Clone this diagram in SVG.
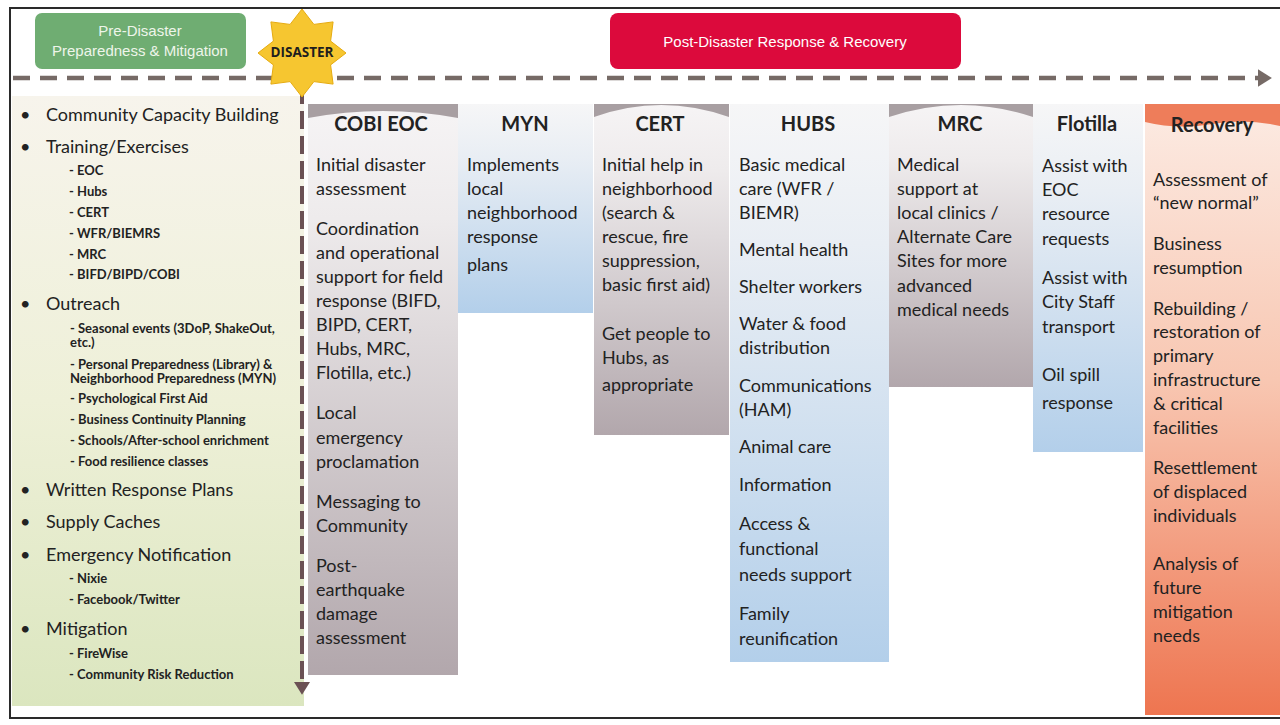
<svg xmlns="http://www.w3.org/2000/svg" width="1280" height="725" viewBox="0 0 1280 725">
<defs>
<linearGradient id="gGrey" x1="0" y1="0" x2="0" y2="1">
<stop offset="0" stop-color="#f6f4f5"/><stop offset="0.2" stop-color="#eeebec"/><stop offset="1" stop-color="#b2a7ac"/>
</linearGradient>
<linearGradient id="gBlue" x1="0" y1="0" x2="0" y2="1">
<stop offset="0" stop-color="#f6f6f7"/><stop offset="0.25" stop-color="#e9eef4"/><stop offset="1" stop-color="#b3cfea"/>
</linearGradient>
<linearGradient id="gRec" x1="0" y1="0" x2="0" y2="1">
<stop offset="0" stop-color="#fcebe3"/><stop offset="0.45" stop-color="#f8c7b2"/><stop offset="1" stop-color="#ee7550"/>
</linearGradient>
<linearGradient id="gLeft" x1="0" y1="0" x2="0" y2="1">
<stop offset="0" stop-color="#f7f4ec"/><stop offset="0.5" stop-color="#eef0d8"/><stop offset="1" stop-color="#dbe6bf"/>
</linearGradient>
<marker id="arrR" markerWidth="4" markerHeight="4" refX="1" refY="2" orient="auto" markerUnits="strokeWidth">
<path d="M0,0 L3.2,2 L0,4 Z" fill="#766a66"/>
</marker>
<marker id="arrD" markerWidth="4" markerHeight="4" refX="1" refY="2" orient="auto" markerUnits="strokeWidth">
<path d="M0,0 L3.2,2 L0,4 Z" fill="#6b5154"/>
</marker>
</defs>
<style>
.t{font-family:Lato,"Open Sans",sans-serif;font-size:18px;fill:#222222}
.h{font-family:Lato,"Open Sans",sans-serif;font-size:20px;font-weight:bold;fill:#222222;text-anchor:middle}
.b{font-family:Lato,"Open Sans",sans-serif;font-size:18px;fill:#222222}
.s{font-family:Lato,"Open Sans",sans-serif;font-size:13px;font-weight:bold;fill:#222222}
.box{font-family:"Liberation Sans",Arial,sans-serif;font-size:15px;text-anchor:middle}
.band{fill:#a89fa2}
</style>
<rect width="1280" height="725" fill="#ffffff"/>
<rect x="10" y="8" width="1290" height="710" fill="none" stroke="#2a2a2a" stroke-width="2"/>

<g id="left-panel">
<rect x="12" y="96" width="292" height="610" fill="url(#gLeft)"/>
<g class="t">
<text x="20" y="121">•</text><text x="46" y="121">Community Capacity Building</text>
<text x="20" y="153">•</text><text x="46" y="153">Training/Exercises</text>
<text x="20" y="310">•</text><text x="46" y="310">Outreach</text>
<text x="20" y="496">•</text><text x="46" y="496">Written Response Plans</text>
<text x="20" y="528">•</text><text x="46" y="528">Supply Caches</text>
<text x="20" y="561">•</text><text x="46" y="561">Emergency Notification</text>
<text x="20" y="635">•</text><text x="46" y="635">Mitigation</text>
</g>
<g class="s">
<text x="69" y="175">- EOC</text>
<text x="69" y="196">- Hubs</text>
<text x="69" y="217">- CERT</text>
<text x="69" y="238">- WFR/BIEMRS</text>
<text x="69" y="259">- MRC</text>
<text x="69" y="279">- BIFD/BIPD/COBI</text>
<text x="70" y="333">- Seasonal events (3DoP, ShakeOut,</text>
<text x="70" y="347">etc.)</text>
<text x="70" y="369">- Personal Preparedness (Library) &amp;</text>
<text x="70" y="383">Neighborhood Preparedness (MYN)</text>
<text x="70" y="403">- Psychological First Aid</text>
<text x="70" y="424">- Business Continuity Planning</text>
<text x="70" y="445">- Schools/After-school enrichment</text>
<text x="70" y="466">- Food resilience classes</text>
<text x="69" y="583">- Nixie</text>
<text x="69" y="604">- Facebook/Twitter</text>
<text x="69" y="658">- FireWise</text>
<text x="69" y="679">- Community Risk Reduction</text>
</g>
</g>

<g id="pre-disaster">
<rect x="35" y="13" width="211" height="56" rx="7" fill="#6fad72"/>
<text class="box" x="140" y="36" fill="#eef5ea">Pre-Disaster</text>
<text class="box" x="140" y="56" fill="#eef5ea">Preparedness &amp; Mitigation</text>
</g>

<g id="post-disaster">
<rect x="610" y="13" width="351" height="56" rx="8" fill="#dc0a3c"/>
<text class="box" x="785" y="47" fill="#ffffff">Post-Disaster Response &amp; Recovery</text>
</g>

<g id="connectors">
<line x1="13" y1="78" x2="1262" y2="78" stroke="#766a66" stroke-width="4.5" stroke-dasharray="17 10" marker-end="url(#arrR)"/>
<line x1="302" y1="86" x2="302" y2="686" stroke="#6b5154" stroke-width="4" stroke-dasharray="18 7" marker-end="url(#arrD)"/>
</g>

<g id="disaster">
<polygon points="302,9 313.9,24.4 333.1,21.9 330.6,41.1 346,53 330.6,64.9 333.1,84.1 313.9,81.6 302,97 290.1,81.6 270.9,84.1 273.4,64.9 258,53 273.4,41.1 270.9,21.9 290.1,24.4" fill="#f6c630" stroke="#e6ab10" stroke-width="1"/>
<text x="302" y="57" text-anchor="middle" font-family="'Open Sans',Lato,sans-serif" font-size="13.5" font-weight="bold" fill="#1e1e1e">DISASTER</text>
</g>

<g id="cobi-eoc">
<rect x="308" y="104" width="150" height="571" fill="url(#gGrey)"/>
<path class="band" d="M308,104 H458 V118 Q383,104 308,118 Z"/>
<text class="h" x="381" y="131">COBI EOC</text>
<g class="b">
<text x="316" y="171">Initial disaster</text>
<text x="316" y="195">assessment</text>
<text x="316" y="235">Coordination</text>
<text x="316" y="259">and operational</text>
<text x="316" y="283">support for field</text>
<text x="316" y="307">response (BIFD,</text>
<text x="316" y="331">BIPD, CERT,</text>
<text x="316" y="355">Hubs, MRC,</text>
<text x="316" y="379">Flotilla, etc.)</text>
<text x="316" y="419">Local</text>
<text x="316" y="444">emergency</text>
<text x="316" y="468">proclamation</text>
<text x="316" y="508">Messaging to</text>
<text x="316" y="532">Community</text>
<text x="316" y="572">Post-</text>
<text x="316" y="596">earthquake</text>
<text x="316" y="620">damage</text>
<text x="316" y="644">assessment</text>
</g>
</g>

<g id="myn">
<rect x="458" y="104" width="135" height="209" fill="url(#gBlue)"/>
<text class="h" x="525" y="131">MYN</text>
<g class="b">
<text x="467" y="171">Implements</text>
<text x="467" y="195">local</text>
<text x="467" y="219">neighborhood</text>
<text x="467" y="243">response</text>
<text x="467" y="271">plans</text>
</g>
</g>

<g id="cert">
<rect x="594" y="104" width="135" height="331" fill="url(#gGrey)"/>
<path class="band" d="M594,104 H729 V117 Q661,93 594,117 Z"/>
<text class="h" x="660" y="131">CERT</text>
<g class="b">
<text x="602" y="171">Initial help in</text>
<text x="602" y="195">neighborhood</text>
<text x="602" y="219">(search &amp;</text>
<text x="602" y="243">rescue, fire</text>
<text x="602" y="267">suppression,</text>
<text x="602" y="291">basic first aid)</text>
<text x="602" y="340">Get people to</text>
<text x="602" y="364">Hubs, as</text>
<text x="602" y="391">appropriate</text>
</g>
</g>

<g id="hubs">
<rect x="730" y="104" width="159" height="558" fill="url(#gBlue)"/>
<text class="h" x="808" y="131">HUBS</text>
<g class="b">
<text x="739" y="171">Basic medical</text>
<text x="739" y="195">care (WFR /</text>
<text x="739" y="219">BIEMR)</text>
<text x="739" y="256">Mental health</text>
<text x="739" y="293">Shelter workers</text>
<text x="739" y="330">Water &amp; food</text>
<text x="739" y="354">distribution</text>
<text x="739" y="392">Communications</text>
<text x="739" y="416">(HAM)</text>
<text x="739" y="453">Animal care</text>
<text x="739" y="491">Information</text>
<text x="739" y="530">Access &amp;</text>
<text x="739" y="555">functional</text>
<text x="739" y="581">needs support</text>
<text x="739" y="620">Family</text>
<text x="739" y="645">reunification</text>
</g>
</g>

<g id="mrc">
<rect x="889" y="104" width="144" height="283" fill="url(#gGrey)"/>
<path class="band" d="M889,104 H1033 V117 Q961,93 889,117 Z"/>
<text class="h" x="960" y="131">MRC</text>
<g class="b">
<text x="897" y="171">Medical</text>
<text x="897" y="195">support at</text>
<text x="897" y="219">local clinics /</text>
<text x="897" y="243">Alternate Care</text>
<text x="897" y="267">Sites for more</text>
<text x="897" y="292">advanced</text>
<text x="897" y="316">medical needs</text>
</g>
</g>

<g id="flotilla">
<rect x="1033" y="104" width="110" height="348" fill="url(#gBlue)"/>
<text class="h" x="1087" y="131">Flotilla</text>
<g class="b">
<text x="1042" y="172">Assist with</text>
<text x="1042" y="196">EOC</text>
<text x="1042" y="220">resource</text>
<text x="1042" y="245">requests</text>
<text x="1042" y="284">Assist with</text>
<text x="1042" y="308">City Staff</text>
<text x="1042" y="333">transport</text>
<text x="1042" y="381">Oil spill</text>
<text x="1042" y="409">response</text>
</g>
</g>

<g id="recovery">
<rect x="1145" y="104" width="135" height="611" fill="url(#gRec)"/>
<path d="M1145,104 H1280 V126 Q1245,118 1212,124 Q1178,130 1145,122 Z" fill="#ee7d5a"/>
<text class="h" x="1212" y="132">Recovery</text>
<g class="b">
<text x="1153" y="186">Assessment of</text>
<text x="1153" y="209">“new normal”</text>
<text x="1153" y="250">Business</text>
<text x="1153" y="274">resumption</text>
<text x="1153" y="315">Rebuilding /</text>
<text x="1153" y="338">restoration of</text>
<text x="1153" y="362">primary</text>
<text x="1153" y="386">infrastructure</text>
<text x="1153" y="410">&amp; critical</text>
<text x="1153" y="434">facilities</text>
<text x="1153" y="474">Resettlement</text>
<text x="1153" y="498">of displaced</text>
<text x="1153" y="522">individuals</text>
<text x="1153" y="570">Analysis of</text>
<text x="1153" y="594">future</text>
<text x="1153" y="618">mitigation</text>
<text x="1153" y="642">needs</text>
</g>
</g>
</svg>
